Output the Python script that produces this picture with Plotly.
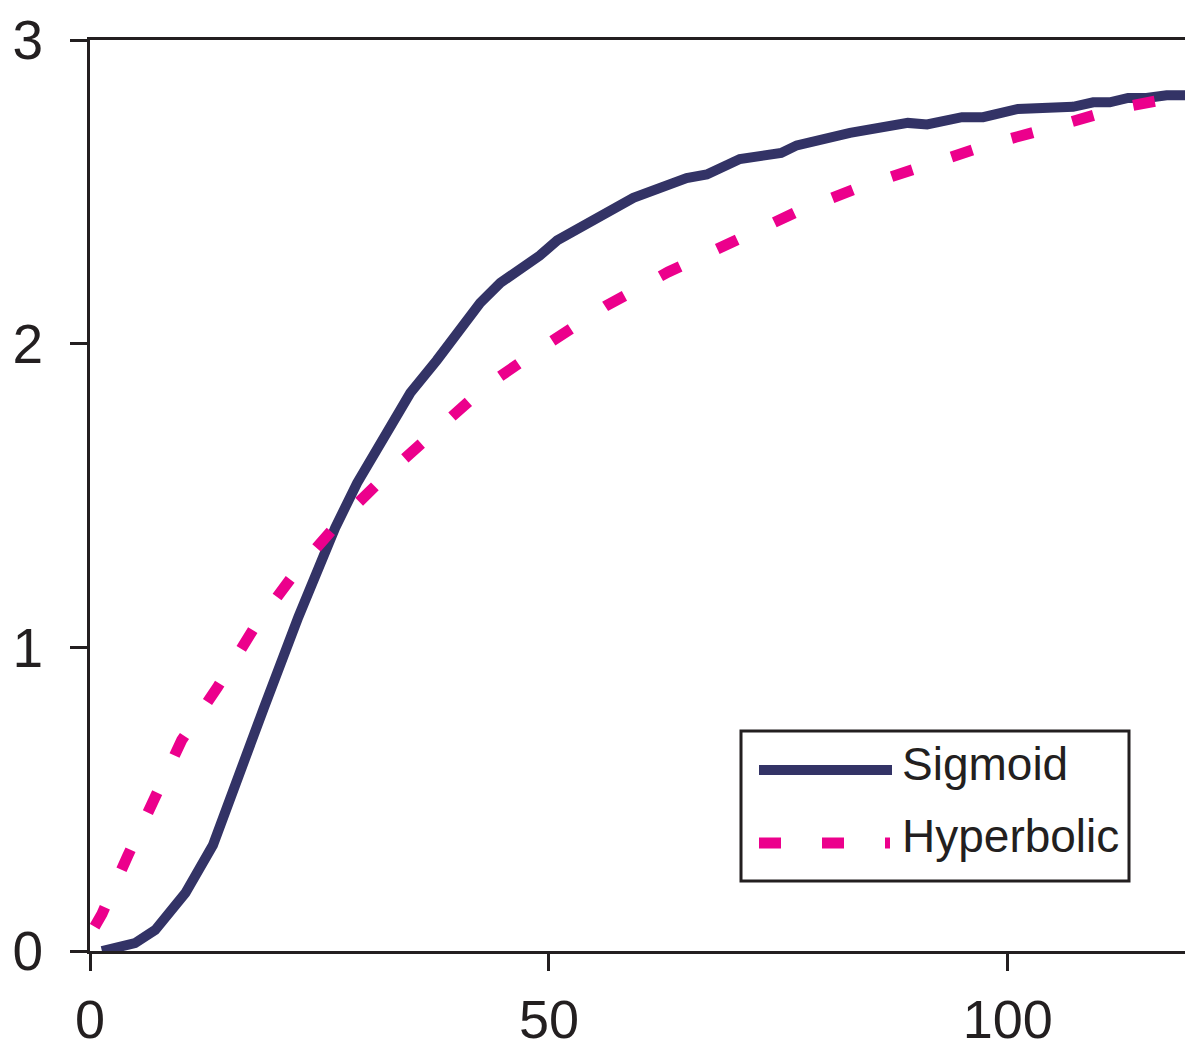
import plotly.graph_objects as go

# ---- data ----
sigmoid_x = [1.3, 4.9, 7.1, 9.0, 10.4, 13.4, 16.7, 18.9, 22.7, 26.7, 29.1, 31.3,
             34.9, 37.8, 42.5, 44.7, 49.0, 50.9, 57.0, 59.2, 65.0, 67.2, 70.8,
             75.3, 77.0, 82.8, 89.1, 91.2, 95.0, 97.3, 101.1, 103.2, 105.1,
             107.1, 109.3, 111.1, 113.1, 115.1, 117.3, 119.3]
sigmoid_y = [0.0, 0.026, 0.069, 0.135, 0.191, 0.349, 0.606, 0.797, 1.10, 1.393,
             1.541, 1.653, 1.838, 1.946, 2.134, 2.20, 2.29, 2.34, 2.447, 2.48,
             2.545, 2.557, 2.608, 2.628, 2.653, 2.694, 2.727, 2.722, 2.746,
             2.746, 2.773, 2.773, 2.78, 2.78, 2.795, 2.795, 2.809, 2.809,
             2.818, 2.818]

hyper_x = [0.5, 1.3, 4.1, 7.0, 10.0, 13.9, 17.8, 22.4, 27.3, 32.5, 37.8, 43.3,
           49.5, 56.2, 63.0, 70.2, 77.0, 83.9, 90.9, 98.2, 104.9, 112.1, 118.4,
           119.3]
hyper_y = [0.08, 0.122, 0.313, 0.507, 0.695, 0.869, 1.06, 1.248, 1.419, 1.574,
           1.719, 1.864, 1.992, 2.124, 2.236, 2.341, 2.434, 2.516, 2.586, 2.658,
           2.713, 2.776, 2.812, 2.82]

x_ticks = [0, 50, 100]
y_ticks = [0, 1, 2, 3]
series_names = ["Sigmoid", "Hyperbolic"]

# ---- style ----
NAVY = "#333366"
MAGENTA = "#EC008C"
INK = "#231F20"
FONT = "Liberation Sans, Arial, sans-serif"
W, H = 1185, 1052
ML, MR, MT, MB = 90, 0, 40, 101

fig = go.Figure()
fig.add_trace(go.Scatter(x=sigmoid_x, y=sigmoid_y, mode="lines", name=series_names[0],
                         line=dict(color=NAVY, width=10), cliponaxis=False,
                         showlegend=False))
fig.add_trace(go.Scatter(x=hyper_x, y=hyper_y, mode="lines", name=series_names[1],
                         line=dict(color=MAGENTA, width=11, dash="22px,41px"),
                         cliponaxis=False, showlegend=False))

# custom legend (pixel -> paper helpers)
pw, ph = W - ML - MR, H - MT - MB
def px(x):
    return (x - ML) / pw
def py(y):
    return (H - MB - y) / ph

shapes = [
    dict(type="rect", xref="paper", yref="paper", x0=px(741), x1=px(1129),
         y0=py(881), y1=py(731), line=dict(color=INK, width=3), fillcolor="white",
         layer="above"),
    dict(type="line", xref="paper", yref="paper", x0=px(759), x1=px(892),
         y0=py(770), y1=py(770), line=dict(color=NAVY, width=10), layer="above"),
    dict(type="line", xref="paper", yref="paper", x0=px(759), x1=px(890),
         y0=py(843), y1=py(843), line=dict(color=MAGENTA, width=11, dash="22px,41px"),
         layer="above"),
]
annotations = [
    dict(xref="paper", yref="paper", x=px(900), y=py(764), text=series_names[0],
         showarrow=False, xanchor="left", yanchor="middle",
         font=dict(family=FONT, size=46, color=INK)),
    dict(xref="paper", yref="paper", x=px(900), y=py(836), text=series_names[1],
         showarrow=False, xanchor="left", yanchor="middle",
         font=dict(family=FONT, size=46, color=INK)),
]

fig.update_layout(
    width=W, height=H,
    margin=dict(l=ML, r=MR, t=MT, b=MB, pad=0, autoexpand=False),
    paper_bgcolor="white", plot_bgcolor="white",
    showlegend=False,
    shapes=shapes, annotations=annotations,
    font=dict(family=FONT, color=INK),
)
fig.update_xaxes(range=[0, 119.3], tickvals=x_ticks, ticktext=[str(v) for v in x_ticks],
                 showgrid=False, zeroline=False, showline=True, linecolor=INK,
                 linewidth=3, mirror=True, ticks="outside", ticklen=17, tickwidth=3,
                 tickcolor=INK, tickfont=dict(family=FONT, size=54, color=INK),
                 ticklabelstandoff=2, automargin=False)
fig.update_yaxes(range=[0, 3], tickvals=y_ticks, ticktext=[str(v) for v in y_ticks],
                 showgrid=False, zeroline=False, showline=True, linecolor=INK,
                 linewidth=3, ticks="outside", ticklen=17, tickwidth=3,
                 tickcolor=INK, tickfont=dict(family=FONT, size=55, color=INK),
                 ticklabelstandoff=16, automargin=False)

fig.write_html(
    "out.html",
    config={"displayModeBar": False},
    post_script="document.body.style.margin='0';document.body.style.overflow='hidden';",
)
